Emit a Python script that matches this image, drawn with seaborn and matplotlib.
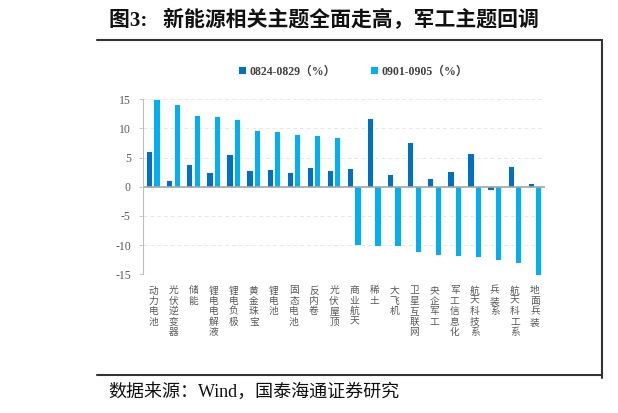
import pandas as pd
import seaborn as sns
import matplotlib.pyplot as plt
from matplotlib.patches import Patch
from matplotlib.lines import Line2D

# 主题名称及两段区间涨跌幅（%）
themes = ['动力电池', '光伏逆变器', '储能', '锂电电解液', '锂电负极', '黄金珠宝', '锂电池',
          '固态电池', '反内卷', '光伏屋顶', '商业航天', '稀土', '大飞机', '卫星互联网',
          '央企军工', '军工信息化', '航天科技系', '兵装系', '航天科工系', '地面兵装']
chg_0824_0829 = [6.0, 1.0, 3.8, 2.4, 5.5, 2.7, 2.85, 2.3, 3.2, 2.7, 3.0,
                 11.65, 2.0, 7.5, 1.35, 2.6, 5.55, -0.6, 3.4, 0.45]
chg_0901_0905 = [14.9, 14.0, 12.1, 12.0, 11.5, 9.5, 9.4, 8.85, 8.75, 8.3, -10.0,
                 -10.2, -10.2, -11.1, -11.7, -11.9, -12.0, -12.5, -13.0, -15.2]
series_names = ['0824-0829（%）', '0901-0905（%）']
y_ticks = [-15, -10, -5, 0, 5, 10, 15]

dark_blue = '#0070C0'
light_blue = '#00B0F0'

df = pd.DataFrame({
    '主题': themes * 2,
    '区间': [series_names[0]] * len(themes) + [series_names[1]] * len(themes),
    '涨跌幅': chg_0824_0829 + chg_0901_0905,
})

sns.set_style('white')
plt.rcParams['font.family'] = ['Liberation Serif', 'Noto Sans CJK SC', 'DejaVu Sans']

fig = plt.figure(figsize=(6.18, 4.13), dpi=100)
ax = fig.add_axes([0.2319, 0.3358, 0.65, 0.4238])

sns.barplot(data=df, x='主题', y='涨跌幅', hue='区间', order=themes,
            hue_order=series_names, palette={series_names[0]: dark_blue, series_names[1]: light_blue},
            width=0.74, saturation=1, errorbar=None, legend=False, ax=ax)
# 柱宽略窄，两柱之间留空
bar_w = 0.26
for p in ax.patches:
    c = p.get_x() + p.get_width() / 2
    c = round(c) + (0.185 if c > round(c) else -0.185)
    p.set_width(bar_w)
    p.set_x(c - bar_w / 2)
    p.set_linewidth(0)
    p.set_clip_on(False)

ax.set_ylim(-15, 15)
ax.set_xlim(-0.5, len(themes) - 0.5)
ax.set_yticks(y_ticks)
ax.set_yticklabels([str(t) for t in y_ticks], fontsize=8.5, color='#595959',
                   family='Liberation Serif')
ax.set_xticks(range(len(themes)))
ax.set_xticklabels(['\n'.join(t) for t in themes], fontsize=7, color='#595959',
                   family=['Noto Sans CJK SC'], va='top', linespacing=1.05)
ax.tick_params(axis='x', length=0, pad=8)
ax.tick_params(axis='y', length=3, width=0.6, color='#bfbfbf', pad=6, left=True)
ax.set_xlabel('')
ax.set_ylabel('')

ax.yaxis.grid(True, linestyle=(0, (4, 3)), color='#e8e8e8', linewidth=0.7)
ax.set_axisbelow(True)
ax.axhline(0, color='#a6a6a6', linewidth=1.2, zorder=1)
for s in ['top', 'right', 'bottom']:
    ax.spines[s].set_visible(False)
ax.spines['left'].set_color('#bfbfbf')
ax.spines['left'].set_linewidth(0.8)

handles = [Patch(facecolor=dark_blue, edgecolor='none'), Patch(facecolor=light_blue, edgecolor='none')]
fig.legend(handles, series_names, loc='center', bbox_to_anchor=(0.572, 0.826), ncol=2,
           frameon=False, handlelength=0.6, handleheight=0.6, handletextpad=0.3,
           columnspacing=3.0, prop={'family': ['Liberation Serif', 'Noto Sans CJK SC'],
                                    'weight': 'bold', 'size': 8.5},
           labelcolor='#404040')

# 标题与外框线
fig.text(0.176, 0.951, '图3:   新能源相关主题全面走高，军工主题回调', fontsize=15, fontweight='bold',
         family=['Liberation Serif', 'Noto Sans CJK SC'], va='center', ha='left', color='#111111')
fig.text(0.176, 0.051, '数据来源：Wind，国泰海通证券研究', fontsize=13,
         family=['Liberation Serif', 'Noto Sans CJK SC'], va='center', ha='left', color='#111111')
fig.add_artist(Line2D([0.157, 0.974], [0.903, 0.903], color='#333333', lw=1.5))
fig.add_artist(Line2D([0.157, 0.974], [0.092, 0.092], color='#333333', lw=1.5))
fig.add_artist(Line2D([0.974, 0.974], [0.903, 0.085], color='#333333', lw=1.5))

fig.savefig('out.png', dpi=100)
